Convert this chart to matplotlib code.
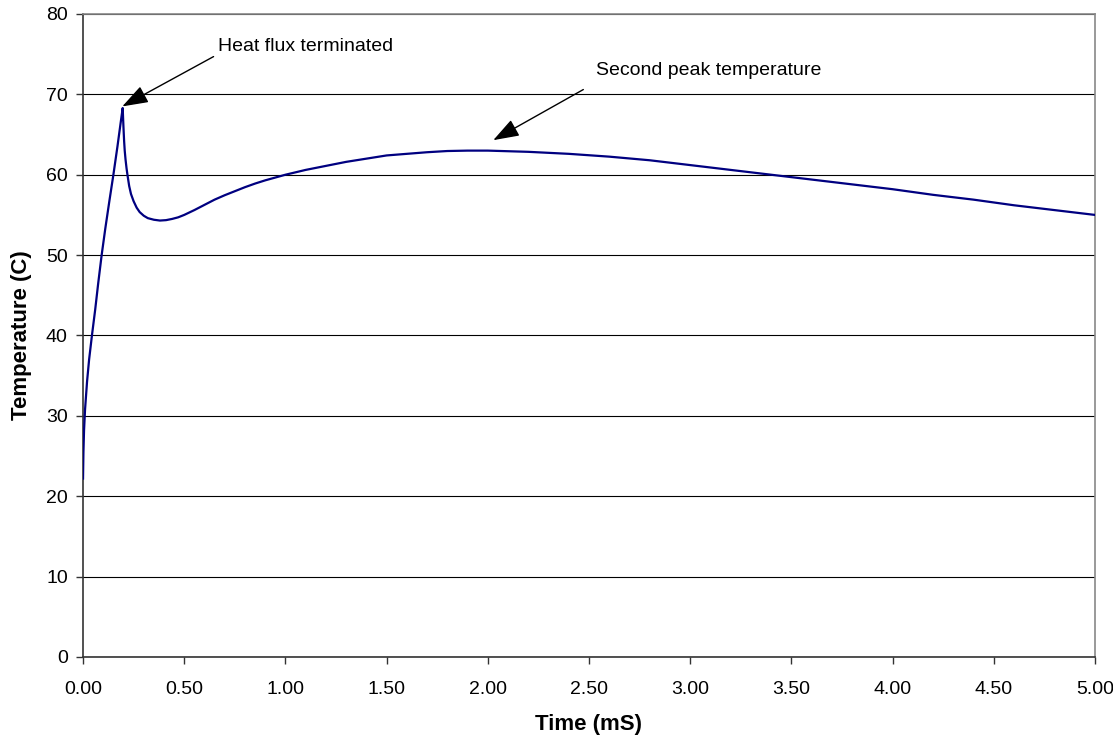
import matplotlib
matplotlib.use('Agg')
import matplotlib.pyplot as plt

# transient surface temperature after a short heat flux pulse
time_ms = [0.0, 0.002, 0.005, 0.01, 0.02, 0.03, 0.044, 0.06, 0.075, 0.092,
           0.11, 0.13, 0.15, 0.17, 0.185, 0.196, 0.198, 0.200, 0.203, 0.206,
           0.210, 0.215, 0.220, 0.228, 0.237, 0.25, 0.265, 0.28, 0.30, 0.32,
           0.35, 0.38, 0.41, 0.44, 0.47, 0.50, 0.55, 0.60, 0.65, 0.70,
           0.75, 0.80, 0.85, 0.90, 0.95, 1.0, 1.1, 1.2, 1.3, 1.4,
           1.5, 1.6, 1.7, 1.8, 1.9, 2.0, 2.2, 2.4, 2.6, 2.8,
           3.0, 3.2, 3.4, 3.6, 3.8, 4.0, 4.2, 4.4, 4.6, 4.8, 5.0]
temp_c = [22.2, 25.5, 28.2, 30.8, 34.3, 37.0, 40.0, 43.2, 46.5, 50.0,
          53.3, 56.7, 60.0, 63.5, 66.3, 68.3, 67.0, 65.8, 64.2, 63.0,
          61.9, 60.8, 59.9, 58.6, 57.6, 56.7, 55.9, 55.35, 54.9, 54.6,
          54.4, 54.3, 54.35, 54.5, 54.7, 55.0, 55.6, 56.25, 56.9, 57.45,
          57.95, 58.45, 58.9, 59.3, 59.65, 60.0, 60.6, 61.1, 61.6, 62.0,
          62.4, 62.6, 62.8, 62.95, 63.0, 63.0, 62.85, 62.6, 62.25, 61.8,
          61.2, 60.6, 60.0, 59.4, 58.8, 58.2, 57.5, 56.9, 56.2, 55.6, 55.0]

x_ticks = [0.0, 0.5, 1.0, 1.5, 2.0, 2.5, 3.0, 3.5, 4.0, 4.5, 5.0]
y_ticks = [0, 10, 20, 30, 40, 50, 60, 70, 80]

plt.rcParams['font.family'] = ['Liberation Sans', 'DejaVu Sans']

fig = plt.figure(figsize=(11.13, 7.40), dpi=100)
ax = fig.add_axes([0.0746, 0.1122, 0.9092, 0.8689])

ax.plot(time_ms, temp_c, color='#000080', lw=1.6, zorder=3,
        solid_joinstyle='round')

ax.set_xlim(0, 5)
ax.set_ylim(0, 80)
ax.set_xticks(x_ticks)
ax.set_xticklabels(['%.2f' % t for t in x_ticks])
ax.set_yticks(y_ticks)
ax.set_yticklabels([str(t) for t in y_ticks])
ax.tick_params(labelsize=14, length=5, width=1, color='#333333', pad=6)
ax.tick_params(axis='x', pad=12)

ax.yaxis.grid(True, color='#000000', lw=0.8)
ax.set_axisbelow(True)
for side in ['left', 'bottom']:
    ax.spines[side].set_color('#333333')
    ax.spines[side].set_linewidth(1.2)
for side in ['top', 'right']:
    ax.spines[side].set_color('#888888')
    ax.spines[side].set_linewidth(1.2)

ax.set_xlabel('Time (mS)', fontsize=16, fontweight='bold', labelpad=12)
ax.set_ylabel('Temperature (C)', fontsize=16, fontweight='bold', labelpad=10)

arrow = dict(arrowstyle='-|>,head_length=0.8,head_width=0.28', color='black',
             lw=1.0, mutation_scale=20, shrinkA=0, shrinkB=0)
ax.annotate('', xy=(0.194, 68.5), xytext=(0.645, 74.7), arrowprops=arrow)
ax.text(0.665, 75.9, 'Heat flux terminated', fontsize=14, ha='left', va='center')
ax.annotate('', xy=(2.027, 64.3), xytext=(2.472, 70.6), arrowprops=arrow)
ax.text(2.537, 73.0, 'Second peak temperature', fontsize=14, ha='left', va='center')

fig.savefig('out.png', dpi=100)
